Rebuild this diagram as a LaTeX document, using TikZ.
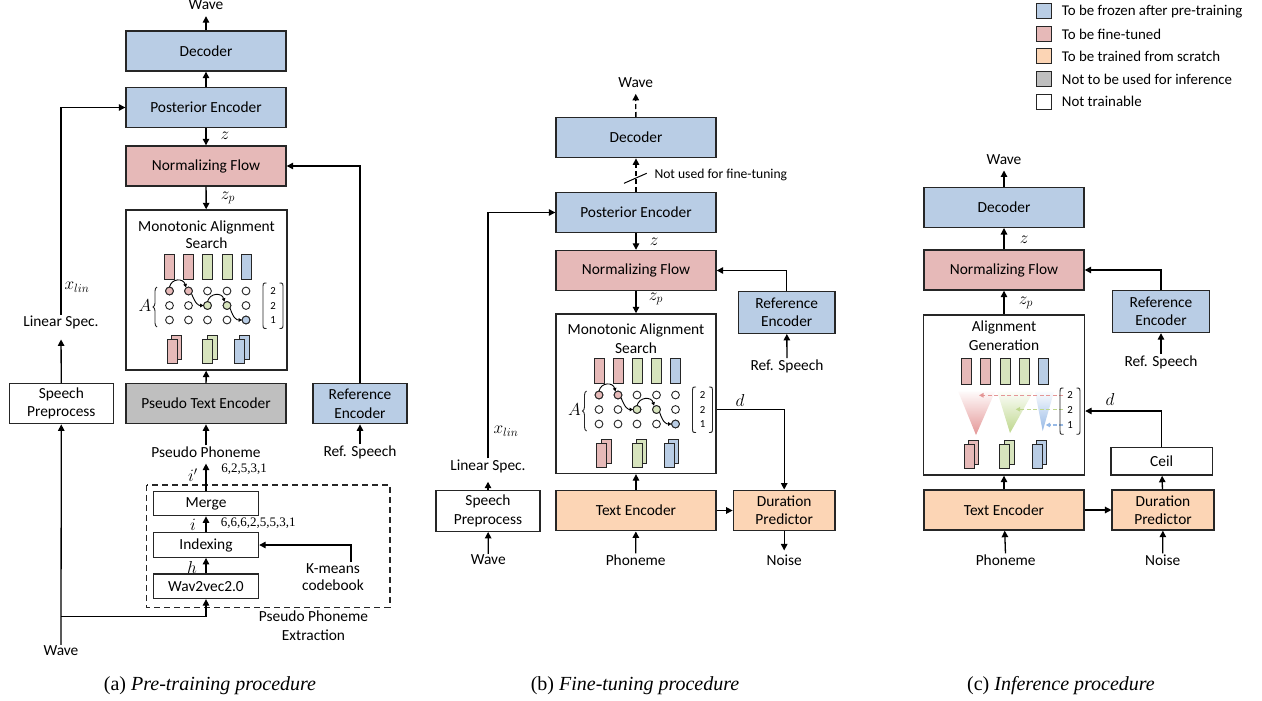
\documentclass[tikz,border=0pt]{standalone}
\usepackage{fontspec}
\setmainfont{Carlito}
\newfontfamily\serifr{Liberation Serif}
\usetikzlibrary{arrows.meta,decorations.pathreplacing}

\definecolor{bluef}{RGB}{185,205,229}
\definecolor{redf}{RGB}{230,185,184}
\definecolor{orgf}{RGB}{252,213,181}
\definecolor{grayf}{RGB}{191,191,191}
\definecolor{grnf}{RGB}{215,228,189}
\definecolor{edge}{RGB}{38,38,38}
\definecolor{redT}{RGB}{228,150,150}
\definecolor{grnT}{RGB}{190,215,140}
\definecolor{bluT}{RGB}{150,185,230}

\newcommand\myfs{\fontsize{15.4}{18.3}\selectfont}
\newcommand\mathfs{\fontsize{17.5}{20}\selectfont}
\newcommand\lgfs{\fontsize{14.9}{17}\selectfont}
\newcommand\smfs{\fontsize{13.6}{16}\selectfont}
\newcommand\tnfs{\fontsize{10.8}{12}\selectfont}
\newcommand\numfs{\serifr\fontsize{13}{15}\selectfont}
\newcommand\capfs{\serifr\fontsize{20}{24}\selectfont}

\tikzset{
 box/.style={draw=edge, line width=1.4pt, inner sep=0pt, align=center, font=\myfs},
 arr/.style={draw=black, line width=1.3pt, -{Triangle[length=6.5pt,width=6.5pt]}},
 dsh/.style={dash pattern=on 5pt off 3pt},
 lbl/.style={inner sep=1pt, font=\myfs, align=center},
 mlbl/.style={inner sep=0pt, font=\mathfs},
 tn/.style={inner sep=0pt, font=\tnfs},
 num/.style={inner sep=0pt, font=\numfs},
 dotc/.style={fill=white, draw=edge, line width=0.9pt},
 sarr/.style={draw=black, line width=0.9pt, -{Triangle[length=3.5pt,width=3.5pt]}},
 carr/.style={line width=1.2pt, dash pattern=on 4pt off 2.5pt, -{Triangle[length=4.5pt,width=4.5pt]}},
 lgsq/.style={draw=edge, line width=1pt, minimum size=15pt, inner sep=0pt},
 lgt/.style={anchor=west, inner sep=0pt, font=\lgfs},
}

\newcommand\mybar[4]{\filldraw[fill=#1,draw=edge,line width=1pt] ({#2-5},{#3-#4}) rectangle ({#2+5},{#3+#4});}
\newcommand\mystk[3]{\mybar{#1}{#2+4.5}{#3-4}{12}\mybar{#1}{#2}{#3}{12}}
\newcommand\parens[4]{%
 \draw[edge,line width=0.9pt] ({#1+3.5},#3) .. controls ({#1},#3) .. ({#1},{#3+6}) -- ({#1},{#4-6}) .. controls ({#1},#4) .. ({#1+3.5},#4);
 \draw[edge,line width=0.9pt] ({#2-3.5},#3) .. controls ({#2},#3) .. ({#2},{#3+6}) -- ({#2},{#4-6}) .. controls ({#2},#4) .. ({#2-3.5},#4);}

\newcommand\masbars{%
 \mybar{redf}{-37}{56.5}{12.5}\mybar{redf}{-18}{56.5}{12.5}\mybar{grnf}{1}{56.5}{12.5}%
 \mybar{grnf}{20.5}{56.5}{12.5}\mybar{bluef}{39.5}{56.5}{12.5}%
 \mystk{redf}{-34.5}{141}\mystk{grnf}{1}{141}\mystk{bluef}{33.3}{141}}

\newcommand\masgrid[1]{%
 \foreach \x in {-37,-18,1,20.5,39.5}{\foreach \y in {81,95.5,110}{\draw[dotc] (\x,\y) circle[radius=3.9pt];}}
 \draw[dotc,fill=redf] (-37,81) circle[radius=3.9pt];
 \draw[dotc,fill=redf] (-18,81) circle[radius=3.9pt];
 \draw[dotc,fill=grnf] (1,95.5) circle[radius=3.9pt];
 \draw[dotc,fill=grnf] (20.5,95.5) circle[radius=3.9pt];
 \draw[dotc,fill=bluef] (39.5,110) circle[radius=3.9pt];
 \draw[sarr] (-37,77.1) .. controls (-35,68) and (-23,68) .. (-20.5,77.5);
 \draw[sarr] (-14.8,84) .. controls (-11,94) and (-8,95.5) .. (-2.9,95.5);
 \draw[sarr] (1,91.6) .. controls (3.5,82.5) and (15.5,82.5) .. (18,91.7);
 \draw[sarr] (23.7,98.5) .. controls (27,108.5) and (30,110) .. (35.6,110);
 \node[mlbl] (#1-A) at (-61.5,96) {$A$};
 \draw[edge,line width=0.9pt,decorate,decoration={brace,amplitude=4pt}] (-49.5,117) -- (-49.5,77);
 \parens{56.5}{76.5}{73}{118.5}
 \node[tn] (#1-n1) at (66.5,80.5) {2};
 \node[tn] (#1-n2) at (66.5,95.5) {2};
 \node[tn] (#1-n3) at (66.5,110.5) {1};}

\begin{document}
\begin{tikzpicture}[x=1pt,y=-1pt]
\useasboundingbox (0,0) rectangle (1262,701);
\fill[white] (0,0) rectangle (1262,701);

%%%%%%%%%%%%%%%% Panel (a)
\node[box,fill=bluef,minimum width=160pt,minimum height=40pt] (a-dec) at (206,51) {Decoder};
\node[box,fill=bluef,minimum width=160pt,minimum height=40pt] (a-pe) at (206,107.5) {Posterior Encoder};
\node[box,fill=redf,minimum width=160pt,minimum height=40pt] (a-nf) at (206,166) {Normalizing Flow};
\node[box,minimum width=161pt,minimum height=160pt] (a-mas) at (206.5,290) {};
\node[box,fill=grayf,minimum width=160pt,minimum height=40pt] (a-pte) at (206,403.7) {Pseudo Text Encoder};
\node[box,minimum width=104pt,minimum height=40pt] (a-sp) at (61.3,403.7) {Speech\\Preprocess};
\node[box,fill=bluef,minimum width=94pt,minimum height=40pt] (a-ref) at (360,403.7) {Reference\\Encoder};
\draw[edge,line width=1.3pt,dash pattern=on 6pt off 4pt] (146.7,485) rectangle (390,607.3);
\node[box,minimum width=105pt,minimum height=24pt] (a-merge) at (206,503.7) {Merge};
\node[box,minimum width=105pt,minimum height=24.5pt] (a-idx) at (206,545) {Indexing};
\node[box,minimum width=105pt,minimum height=24.5pt] (a-w2v) at (206,586.2) {Wav2vec2.0};

\node[lbl,font=\fontsize{15.4}{17.5}\selectfont] (a-mt) at (206.5,234.7) {Monotonic Alignment\\Search};
\begin{scope}[shift={(206.5,210)}]
 \masbars
 \masgrid{a}
\end{scope}

\node[lbl] (a-wt) at (206,5) {Wave};
\node[lbl] (a-ls) at (61,322.7) {Linear Spec.};
\node[lbl] (a-pp) at (206,452) {Pseudo Phoneme};
\node[lbl] (a-rs) at (360,452) {Ref. Speech};
\node[lbl,font=\fontsize{15.4}{17.7}\selectfont] (a-km) at (333,577.2) {K-means\\codebook};
\node[lbl,font=\fontsize{15.4}{19}\selectfont] (a-ppe) at (313.5,626.2) {Pseudo Phoneme\\Extraction};
\node[lbl] (a-wb) at (61,651) {Wave};
\node[mlbl] (a-z) at (225,136) {$z$};
\node[mlbl] (a-zp) at (228,198) {$z_p$};
\node[mlbl] (a-xl) at (77,287) {$x_{lin}$};
\node[mlbl] (a-ip) at (193,475) {$i'$};
\node[mlbl] (a-i) at (193,525) {$i$};
\node[mlbl] (a-h) at (192,567.3) {$h$};
\node[num] (a-s1) at (244.2,469.3) {6,2,5,3,1};
\node[num] (a-s2) at (258.3,522.7) {6,6,6,2,5,5,3,1};
\coordinate (a-kmx) at (351,0);
\coordinate (a-br) at (0,616.7);

\draw[arr,shorten >=5pt] (a-dec) -- (a-wt);
\draw[arr] (a-pe) -- (a-dec);
\draw[arr] (a-pe) -- (a-nf);
\draw[arr] (a-nf) -- (a-mas);
\draw[arr] (a-pte) -- (a-mas);
\draw[arr] (a-pp) -- (a-pte);
\draw[arr] (a-rs) -- (a-ref);
\draw[arr] (a-ref.north) |- (a-nf.east);
\draw[arr,shorten >=5pt] (a-merge) -- (a-pp);
\draw[arr] (a-idx) -- (a-merge);
\draw[arr] (a-w2v) -- (a-idx);
\draw[arr] (a-km.north -| a-kmx) |- (a-idx.east);
\draw[arr,shorten >=9pt] (a-sp) -- (a-ls);
\draw[arr] (a-ls.north) |- (a-pe.west);
\draw[arr] (a-wb) -- (a-sp);
\draw[arr] (a-wb.north |- a-br) -| (a-w2v.south);

%%%%%%%%%%%%%%%% Panel (b)
\node[lbl] (b-wt) at (635.7,82.7) {Wave};
\node[box,fill=bluef,minimum width=160pt,minimum height=40pt] (b-dec) at (636,137.7) {Decoder};
\node[box,fill=bluef,minimum width=160pt,minimum height=40pt] (b-pe) at (636,212.5) {Posterior Encoder};
\node[box,fill=redf,minimum width=160pt,minimum height=40pt] (b-nf) at (636,270.5) {Normalizing Flow};
\node[box,minimum width=160pt,minimum height=159.5pt] (b-mas) at (636,393.7) {};
\node[box,fill=orgf,minimum width=160pt,minimum height=40.5pt] (b-te) at (636,510.5) {Text Encoder};
\node[box,fill=orgf,minimum width=101.7pt,minimum height=40.5pt] (b-dp) at (784.2,510.5) {Duration\\Predictor};
\node[box,minimum width=104pt,minimum height=40.5pt] (b-sp) at (488,511) {Speech\\Preprocess};
\node[box,fill=bluef,minimum width=96.7pt,minimum height=41.5pt] (b-ref) at (786.7,312.5) {Reference\\Encoder};

\node[lbl,font=\fontsize{15.4}{18.5}\selectfont] (b-mt) at (636,338.8) {Monotonic Alignment\\Search};
\begin{scope}[shift={(636,314)}]
 \masbars
 \masgrid{b}
\end{scope}

\node[anchor=west,inner sep=0pt,font=\smfs] (b-nu) at (654.3,175) {Not used for fine-tuning};
\node[lbl] (b-ls) at (488,466) {Linear Spec.};
\node[mlbl] (b-xl) at (506,431) {$x_{lin}$};
\node[mlbl] (b-z) at (654.3,241.7) {$z$};
\node[mlbl] (b-zp) at (656,299) {$z_p$};
\node[mlbl] (b-d) at (740,400) {$d$};
\node[lbl] (b-wb) at (488.3,560) {Wave};
\node[lbl] (b-ph) at (635.7,560) {Phoneme};
\node[lbl] (b-no) at (784.2,560) {Noise};
\node[lbl] (b-rs) at (787,366) {Ref. Speech};
\coordinate (b-dy) at (0,409.3);

\draw[arr,dsh,shorten >=5pt] (b-dec) -- (b-wt);
\draw[arr,dsh] (b-pe) -- (b-dec);
\draw[black,line width=1pt] (624,183.3) -- (646.7,173.3);
\draw[arr] (b-pe) -- (b-nf);
\draw[arr] (b-nf) -- (b-mas);
\draw[arr] (b-te) -- (b-mas);
\draw[arr] (b-te) -- (b-dp);
\draw[arr] (b-ref.north) |- (b-nf.east);
\draw[arr] (b-rs) -- (b-ref);
\draw[arr,shorten >=8pt] (b-sp) -- (b-ls);
\draw[arr] (b-ls.north) |- (b-pe.west);
\draw[arr] (b-wb) -- (b-sp);
\draw[arr] (b-ph) -- (b-te);
\draw[arr,shorten >=3pt] (b-dp) -- (b-no);
\draw[arr] (b-mas.east |- b-dy) -| (b-dp.north);

%%%%%%%%%%%%%%%% Panel (c)
\node[lbl] (c-wt) at (1004,159.3) {Wave};
\node[box,fill=bluef,minimum width=160pt,minimum height=40pt] (c-dec) at (1004,207.3) {Decoder};
\node[box,fill=redf,minimum width=160pt,minimum height=40pt] (c-nf) at (1004,270) {Normalizing Flow};
\node[box,minimum width=161pt,minimum height=160pt] (c-mas) at (1004,395) {};
\node[box,fill=orgf,minimum width=160pt,minimum height=40pt] (c-te) at (1004,510) {Text Encoder};
\node[box,fill=orgf,minimum width=101.7pt,minimum height=40pt] (c-dp) at (1163,510) {Duration\\Predictor};
\node[box,minimum width=101.3pt,minimum height=27.7pt] (c-ceil) at (1161.7,461.2) {Ceil};
\node[box,fill=bluef,minimum width=97pt,minimum height=42pt] (c-ref) at (1161,311.5) {Reference\\Encoder};

\node[lbl,font=\fontsize{15.4}{19}\selectfont] (c-mt) at (1004,335.5) {Alignment\\Generation};
\begin{scope}[shift={(1004,315)}]
 \mybar{redf}{-38}{56.7}{13}\mybar{redf}{-18.7}{56.7}{13}\mybar{grnf}{1}{56.7}{13}
 \mybar{grnf}{20.3}{56.7}{13}\mybar{bluef}{39.7}{56.7}{13}
 \shade[top color=redT!5, bottom color=redT] (-45.7,76.7) -- (-9,76.7) -- (-28,120) -- cycle;
 \shade[top color=grnT!5, bottom color=grnT] (-6.7,76.7) -- (29.3,76.7) -- (6,118) -- cycle;
 \shade[top color=bluT!5, bottom color=bluT] (31,76.7) -- (50,76.7) -- (38.7,116) -- cycle;
 \draw[carr,redT] (59.3,80.3) -- (-25,80.3);
 \draw[carr,grnT] (59.3,94.3) -- (11.7,94.3);
 \draw[carr,bluT] (59.3,110) -- (41.7,110);
 \parens{56}{76}{73}{119.3}
 \node[tn] (c-n1) at (66,80.3) {2};
 \node[tn] (c-n2) at (66,94.8) {2};
 \node[tn] (c-n3) at (66,110) {1};
 \mystk{redf}{-35}{141}\mystk{grnf}{0.7}{141}\mystk{bluef}{33}{141}
\end{scope}

\node[mlbl] (c-z) at (1024.3,240) {$z$};
\node[mlbl] (c-zp) at (1026,303) {$z_p$};
\node[mlbl] (c-d) at (1110,399.3) {$d$};
\node[lbl] (c-ph) at (1005.7,560) {Phoneme};
\node[lbl] (c-no) at (1162.7,560) {Noise};
\node[lbl] (c-rs) at (1161,362) {Ref. Speech};
\coordinate (c-dy) at (0,411);

\draw[arr,shorten >=5pt] (c-dec) -- (c-wt);
\draw[arr] (c-nf) -- (c-dec);
\draw[arr] (c-mas) -- (c-nf);
\draw[arr] (c-te) -- (c-mas);
\draw[arr] (c-te) -- (c-dp);
\draw[arr] (c-dp) -- (c-ceil);
\draw[arr] (c-ceil.north) |- (c-mas.east |- c-dy);
\draw[arr] (c-ph) -- (c-te);
\draw[arr] (c-no) -- (c-dp);
\draw[arr] (c-rs) -- (c-ref);
\draw[arr] (c-ref.north) |- (c-nf.east);

%%%%%%%%%%%%%%%% Legend
\node[lgsq,fill=bluef] (lg1) at (1043.8,11.3) {};
\node[lgt] (lg1t) at (1061.7,11.3) {To be frozen after pre-training};
\node[lgsq,fill=redf] (lg2) at (1043.8,33.9) {};
\node[lgt] (lg2t) at (1061.7,33.9) {To be fine-tuned};
\node[lgsq,fill=orgf] (lg3) at (1043.8,56.5) {};
\node[lgt] (lg3t) at (1061.7,56.5) {To be trained from scratch};
\node[lgsq,fill=grayf] (lg4) at (1043.8,79.1) {};
\node[lgt] (lg4t) at (1061.7,79.1) {Not to be used for inference};
\node[lgsq,fill=white] (lg5) at (1043.8,101.7) {};
\node[lgt] (lg5t) at (1061.7,101.7) {Not trainable};

%%%%%%%%%%%%%%%% Captions
\node[inner sep=0pt,font=\capfs] (capa) at (210,686) {(a) \textit{Pre-training procedure}};
\node[inner sep=0pt,font=\capfs] (capb) at (635,686) {(b) \textit{Fine-tuning procedure}};
\node[inner sep=0pt,font=\capfs] (capc) at (1061,686) {(c) \textit{Inference procedure}};
\end{tikzpicture}
\end{document}
